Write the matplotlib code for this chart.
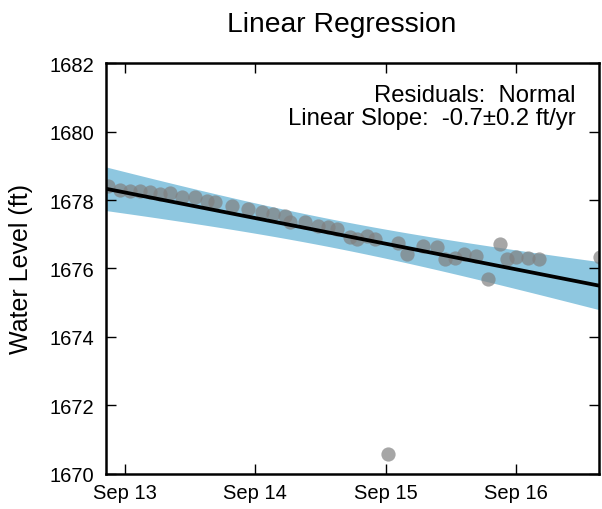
import numpy as np
import matplotlib
matplotlib.use('Agg')
import matplotlib.pyplot as plt
import matplotlib.dates as mdates
from datetime import datetime, timedelta

plt.rcParams['font.family'] = ['Liberation Sans', 'DejaVu Sans']

# ---- data ----
start = datetime(2015, 9, 13)
hours = [-3.1, -0.9, 0.9, 2.8, 4.6, 6.4, 8.3, 10.5, 12.9, 15.1, 16.6, 19.7,
         22.6, 25.2, 27.2, 29.4, 30.3, 33.1, 35.5, 37.3, 39.0, 41.4, 42.8,
         44.5, 46.0, 48.4, 50.2, 51.9, 54.8, 57.4, 58.9, 60.7, 62.5, 64.6,
         66.8, 69.1, 70.3, 72.1, 74.3, 76.3, 87.4]
levels = [1678.40, 1678.30, 1678.27, 1678.27, 1678.22, 1678.18, 1678.20,
          1678.08, 1678.08, 1677.98, 1677.93, 1677.83, 1677.74, 1677.64,
          1677.59, 1677.54, 1677.35, 1677.35, 1677.25, 1677.20, 1677.15,
          1676.91, 1676.86, 1676.96, 1676.86, 1670.58, 1676.75, 1676.41,
          1676.65, 1676.62, 1676.26, 1676.31, 1676.43, 1676.36, 1675.68,
          1676.70, 1676.26, 1676.33, 1676.31, 1676.26, 1676.33]

fit_level_at_start = 1678.22   # ft at Sep 13 00:00
fit_slope_per_day = -0.749     # ft/day
band_min_halfwidth = 0.41
band_center_day = 1.6
band_halfwidth_growth = 0.28

xlim_hours = [-3.55, 87.3]
ylim = [1670, 1682]
yticks = [1670, 1672, 1674, 1676, 1678, 1680, 1682]
xtick_dates = ['2015-09-13', '2015-09-14', '2015-09-15', '2015-09-16']

title = 'Linear Regression'
ylabel = 'Water Level (ft)'
note1 = 'Residuals:  Normal'
note2 = 'Linear Slope:  -0.7\u00b10.2 ft/yr'

# ---- figure ----
fig = plt.figure(figsize=(6.02, 5.10), dpi=100)
ax = fig.add_axes([0.1756, 0.0696, 0.8194, 0.8044])

t = [start + timedelta(hours=h) for h in hours]
tn = mdates.date2num(t)
x0 = mdates.date2num(start)

xl = [x0 + h / 24.0 for h in xlim_hours]
xx = np.linspace(xl[0], xl[1], 200)
d = xx - x0
yfit = fit_level_at_start + fit_slope_per_day * d
hw = np.sqrt(band_min_halfwidth**2 + (band_halfwidth_growth * (d - band_center_day))**2)

ax.fill_between(xx, yfit - hw, yfit + hw, color='#8ec7e0', lw=0, zorder=1)
ax.scatter(tn, levels, s=105, color='#808080', alpha=0.7, lw=0, zorder=2, clip_on=True)
ax.plot(xx, yfit, color='black', lw=2.7, zorder=3)

ax.set_xlim(xl)
ax.set_ylim(ylim)
ax.set_yticks(yticks)
ax.set_xticks([mdates.date2num(datetime.strptime(s, '%Y-%m-%d')) for s in xtick_dates])
ax.xaxis.set_major_formatter(mdates.DateFormatter('%b %d'))

ax.tick_params(direction='in', length=7.5, width=1.0, top=True, right=True,
               labelsize=14.5, pad=8)
ax.tick_params(axis='x', pad=7)
for sp in ax.spines.values():
    sp.set_linewidth(1.8)

ax.set_ylabel(ylabel, fontsize=18, labelpad=12)
fig.text(342 / 602, 1 - 31.7 / 510, title, fontsize=20.3, ha='center', va='baseline')

ax.text(0.953, 0.9088, note1, transform=ax.transAxes, ha='right', va='baseline', fontsize=17.2)
ax.text(0.953, 0.852, note2, transform=ax.transAxes, ha='right', va='baseline', fontsize=17.2)

fig.savefig('out.png', dpi=100)
